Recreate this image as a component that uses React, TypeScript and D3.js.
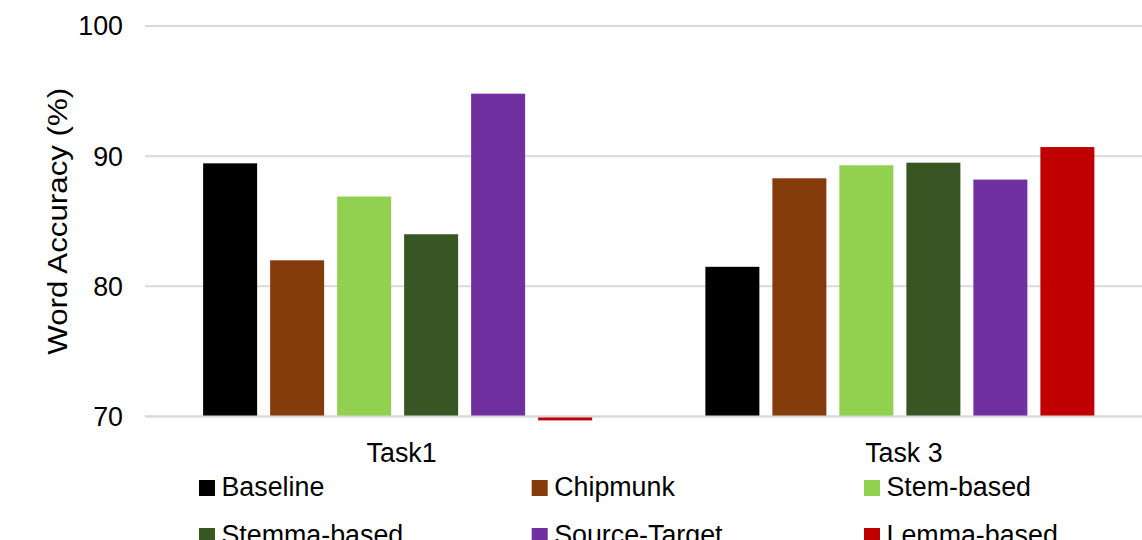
import React from "react";
import * as d3 from "d3";

const categories = ["Task1", "Task 3"];
const seriesNames = ["Baseline", "Chipmunk", "Stem-based", "Stemma-based", "Source-Target", "Lemma-based"];
const seriesColors = ["#000000", "#843C0C", "#92D050", "#375623", "#7030A0", "#C00000"];
const baseline = [89.45, 81.5];
const chipmunk = [82.0, 88.3];
const stemBased = [86.9, 89.3];
const stemmaBased = [84.0, 89.5];
const sourceTarget = [94.8, 88.2];
const lemmaBased = [69.7, 90.7];
const yTicks = [70, 80, 90, 100];

const seriesValues = [baseline, chipmunk, stemBased, stemmaBased, sourceTarget, lemmaBased];

const W = 1142;
const H = 540;
const plotLeft = 145;
const plotRight = 1151;
const plotTop = 26;
const plotBottom = 416.5;
const FONT = "'Liberation Sans', Arial, sans-serif";
const FS = 26.8;

export default function App() {
  const x = d3.scaleBand<string>().domain(categories).range([plotLeft + 1.5, plotRight]).padding(0);
  const y = d3.scaleLinear().domain([70, 100]).range([plotBottom, plotTop]);
  const groupWidth = 389;
  const bw = x.bandwidth();
  const inner = d3
    .scaleBand<string>()
    .domain(seriesNames)
    .range([(bw - groupWidth) / 2, (bw + groupWidth) / 2])
    .paddingInner(0.194)
    .paddingOuter(0);

  const legendCols = [199, 531.7, 864];
  const legendRows = [480, 528];

  return (
    <svg
      width={W}
      height={H}
      style={{ position: "absolute", left: 0, top: 0, background: "#fff" }}
      fontFamily={FONT}
    >
      {yTicks.map((t) => (
        <g key={t}>
          <line x1={plotLeft} x2={W} y1={y(t)} y2={y(t)} stroke="#d9d9d9" strokeWidth={2} />
          <text x={123} y={y(t)} dy="0.35em" textAnchor="end" fontSize={FS} fill="#000">
            {t}
          </text>
        </g>
      ))}
      {categories.map((c, ci) => (
        <g key={c}>
          {seriesNames.map((s, si) => {
            const v = seriesValues[si][ci];
            const y0 = y(70);
            const y1 = y(v);
            return (
              <rect
                key={s}
                x={(x(c) as number) + (inner(s) as number)}
                y={Math.min(y0, y1)}
                width={inner.bandwidth()}
                height={Math.abs(y0 - y1)}
                fill={seriesColors[si]}
              />
            );
          })}
        </g>
      ))}
      <line x1={plotLeft} x2={W} y1={y(70)} y2={y(70)} stroke="#d9d9d9" strokeWidth={2} />
      {categories.map((c) => (
        <text
          key={c}
          x={(x(c) as number) + bw / 2 + 4}
          y={462}
          textAnchor="middle"
          fontSize={FS}
          fill="#000"
        >
          {c}
        </text>
      ))}
      <text
        transform={`translate(67,${(plotTop + plotBottom) / 2}) rotate(-90)`}
        textAnchor="middle"
        fontSize={FS}
        fill="#000"
        textLength={267}
        lengthAdjust="spacingAndGlyphs"
      >
        Word Accuracy (%)
      </text>
      {seriesNames.map((s, i) => {
        const lx = legendCols[i % 3];
        const ly = legendRows[Math.floor(i / 3)];
        return (
          <g key={s}>
            <rect x={lx} y={ly} width={16} height={16} fill={seriesColors[i]} />
            <text x={lx + 22.5} y={ly + 15.7} fontSize={FS} fill="#000">
              {s}
            </text>
          </g>
        );
      })}
    </svg>
  );
}
